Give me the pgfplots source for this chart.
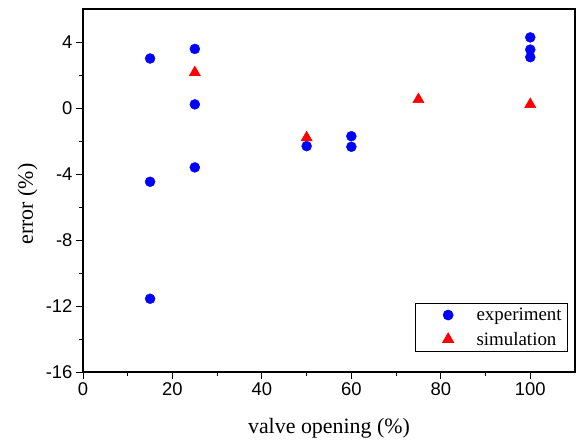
\documentclass[border=0pt]{standalone}
\usepackage{pgfplots}
\pgfplotsset{compat=1.18}
\usepackage{fontspec}
\setmainfont{Liberation Serif}
\newfontfamily\arial{Liberation Sans}
\pgfplotsset{dotleg/.style={legend image code/.code={\draw[##1] plot coordinates {(28bp,0bp)}; \path (0bp,0bp) (54bp,0bp);}}}
\begin{document}
\begin{tikzpicture}
\begin{axis}[
  scale only axis,
  width=492bp, height=363bp,
  xmin=0, xmax=110, ymin=-16, ymax=6,
  xtick={0,20,...,100}, ytick={-16,-12,...,4},
  minor x tick num=1, minor y tick num=1,
  tick align=outside, xtick pos=left, ytick pos=left,
  major tick length=7bp, minor tick length=4bp,
  every tick/.style={black, line width=0.9bp},
  axis line style={black, line width=1.1bp},
  /pgf/number format/assume math mode=true,
  ticklabel style={font=\arial\fontsize{18.5}{18.5}\selectfont},
  xlabel={valve opening (\%)},
  ylabel={error (\%)},
  label style={font=\fontsize{22}{22}\selectfont},
  xlabel style={at={(axis description cs:0.5,0)}, anchor=base, yshift=-61bp},
  ylabel style={at={([xshift=-50bp]axis description cs:0,0.463)}, anchor=base, rotate=0},
  legend style={at={(axis description cs:1,0)}, anchor=south east, xshift=-7bp, yshift=20bp,
    draw=black, line width=0.7bp, font=\fontsize{19}{19}\selectfont, row sep=6bp,
    inner xsep=4bp, inner ysep=3bp},
  legend cell align=left,
]
\addplot[only marks, mark=*, mark size=5bp, draw=blue, fill=blue, dotleg]
  coordinates {(15,3.0) (15,-4.47) (15,-11.56) (25,3.58) (25,0.22) (25,-3.6)
  (50,-2.31) (60,-1.71) (60,-2.35) (100,4.28) (100,3.54) (100,3.08)};
\addlegendentry{experiment}
\addplot[only marks, mark=triangle*, mark size=6.5bp, draw=red, fill=red, dotleg]
  coordinates {(25,2.15) (50,-1.8) (75,0.52) (100,0.22)};
\addlegendentry{simulation}
\end{axis}
\path[use as bounding box] ([xshift=-83bp,yshift=-69bp]current axis.south west) rectangle ([xshift=1bp,yshift=9bp]current axis.north east);
\end{tikzpicture}
\end{document}
